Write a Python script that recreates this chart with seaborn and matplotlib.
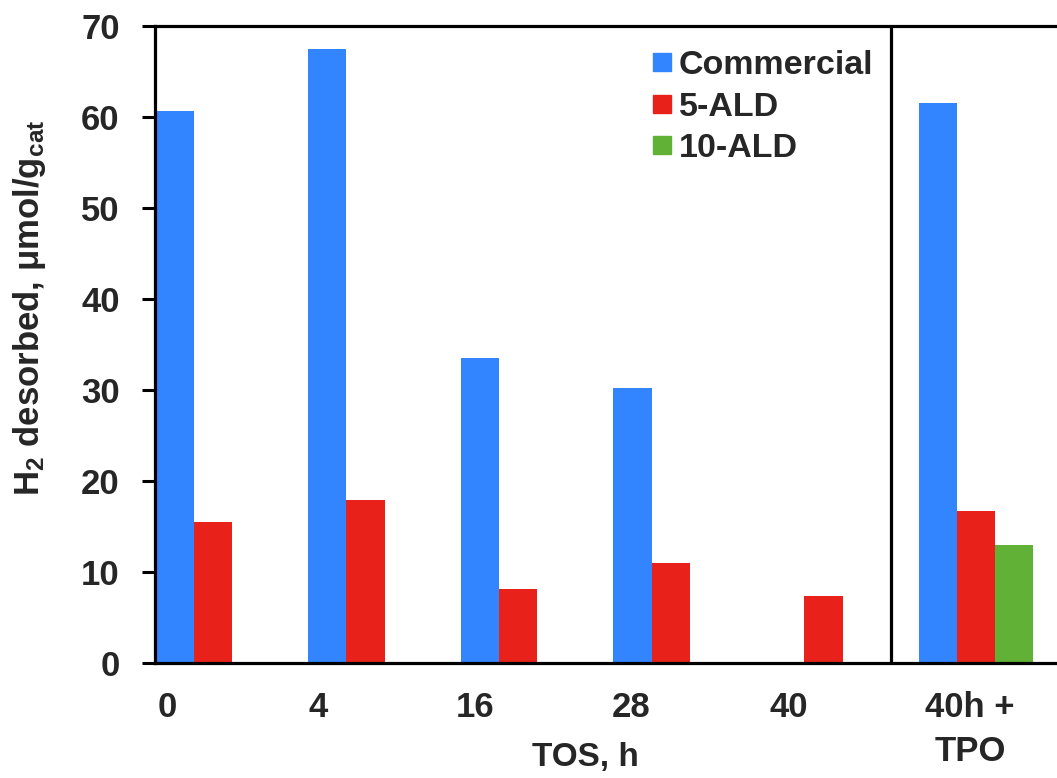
import matplotlib
matplotlib.use("Agg")
import matplotlib.pyplot as plt
import seaborn as sns
import pandas as pd
import numpy as np
from matplotlib.lines import Line2D

# H2 desorbed (umol/g_cat) per catalyst vs. time on stream
categories = ["0", "4", "16", "28", "40", "40h +\nTPO"]
commercial = [60.7, 67.5, 33.5, 30.2, np.nan, 61.5]
ald5 = [15.5, 17.9, 8.1, 11.0, 7.4, 16.7]
ald10 = [np.nan, np.nan, np.nan, np.nan, np.nan, 13.0]
series_names = ["Commercial", "5-ALD", "10-ALD"]
colors = ["#3385FF", "#E8221A", "#61B136"]

rows = []
for name, vals in zip(series_names, [commercial, ald5, ald10]):
    for cat, v in zip(categories, vals):
        if not np.isnan(v):
            rows.append({"TOS": cat, "catalyst": name, "H2": v})
df = pd.DataFrame(rows)

sns.set_theme(style="white")
plt.rcParams["font.family"] = ["Liberation Sans", "DejaVu Sans"]
plt.rcParams["font.weight"] = "bold"
plt.rcParams["mathtext.fontset"] = "custom"
plt.rcParams["mathtext.rm"] = "Liberation Sans:bold"
plt.rcParams["mathtext.it"] = "Liberation Sans:bold"
plt.rcParams["mathtext.bf"] = "Liberation Sans:bold"

fig = plt.figure(figsize=(10.57, 7.78), dpi=100)
ax = fig.add_axes([155 / 1057, 115 / 778, 910 / 1057, 637 / 778])

sns.barplot(data=df, x="TOS", y="H2", hue="catalyst", order=categories,
            hue_order=series_names, palette=colors, width=0.753,
            errorbar=None, saturation=1, linewidth=0, ax=ax, legend=False)

ax.set_xlim(-0.38, -0.38 + 910 / 152.6)
ax.set_ylim(0, 70)
ax.set_yticks(range(0, 71, 10))
ax.set_xticks([-0.30, 0.69, 1.72, 2.74, 3.77, 4.96])
ax.set_xticklabels(categories, fontsize=25, fontweight="bold", linespacing=1.45)
ax.tick_params(axis="x", bottom=False, length=0, pad=20)
ax.tick_params(axis="y", left=True, direction="out", length=9.5, width=2.2,
               color="black", pad=16, labelsize=25)
for lab in ax.get_yticklabels():
    lab.set_fontweight("bold")

for side in ["left", "bottom", "top", "right"]:
    ax.spines[side].set_color("black")
    ax.spines[side].set_linewidth(2.3)

# separator between the time-on-stream series and the post-TPO sample
ax.axvline(4.446, color="black", linewidth=2.3)

ax.set_xlabel("TOS, h", fontsize=24, fontweight="bold")
ax.xaxis.set_label_coords(0.4725, -0.148, transform=ax.transAxes)
ax.xaxis.label.set_va("center")
ax.set_ylabel(r"H$_2$ desorbed, μmol/g$_{\mathregular{cat}}$", fontsize=25,
              fontweight="bold")
ax.yaxis.set_label_coords(-0.138, 0.557, transform=ax.transAxes)
ax.yaxis.label.set_va("center")

handles = [Line2D([], [], marker="s", linestyle="none", markersize=13,
                  markerfacecolor=c, markeredgecolor=c) for c in colors]
leg = fig.legend(handles, series_names, loc="upper left",
                 bbox_to_anchor=(631 / 1057, 1 - 36 / 778), frameon=False,
                 fontsize=24.5, handletextpad=0.0, labelspacing=0.32,
                 handlelength=1.0, borderaxespad=0)
for t in leg.get_texts():
    t.set_fontweight("bold")

fig.savefig("out.png", dpi=100)
